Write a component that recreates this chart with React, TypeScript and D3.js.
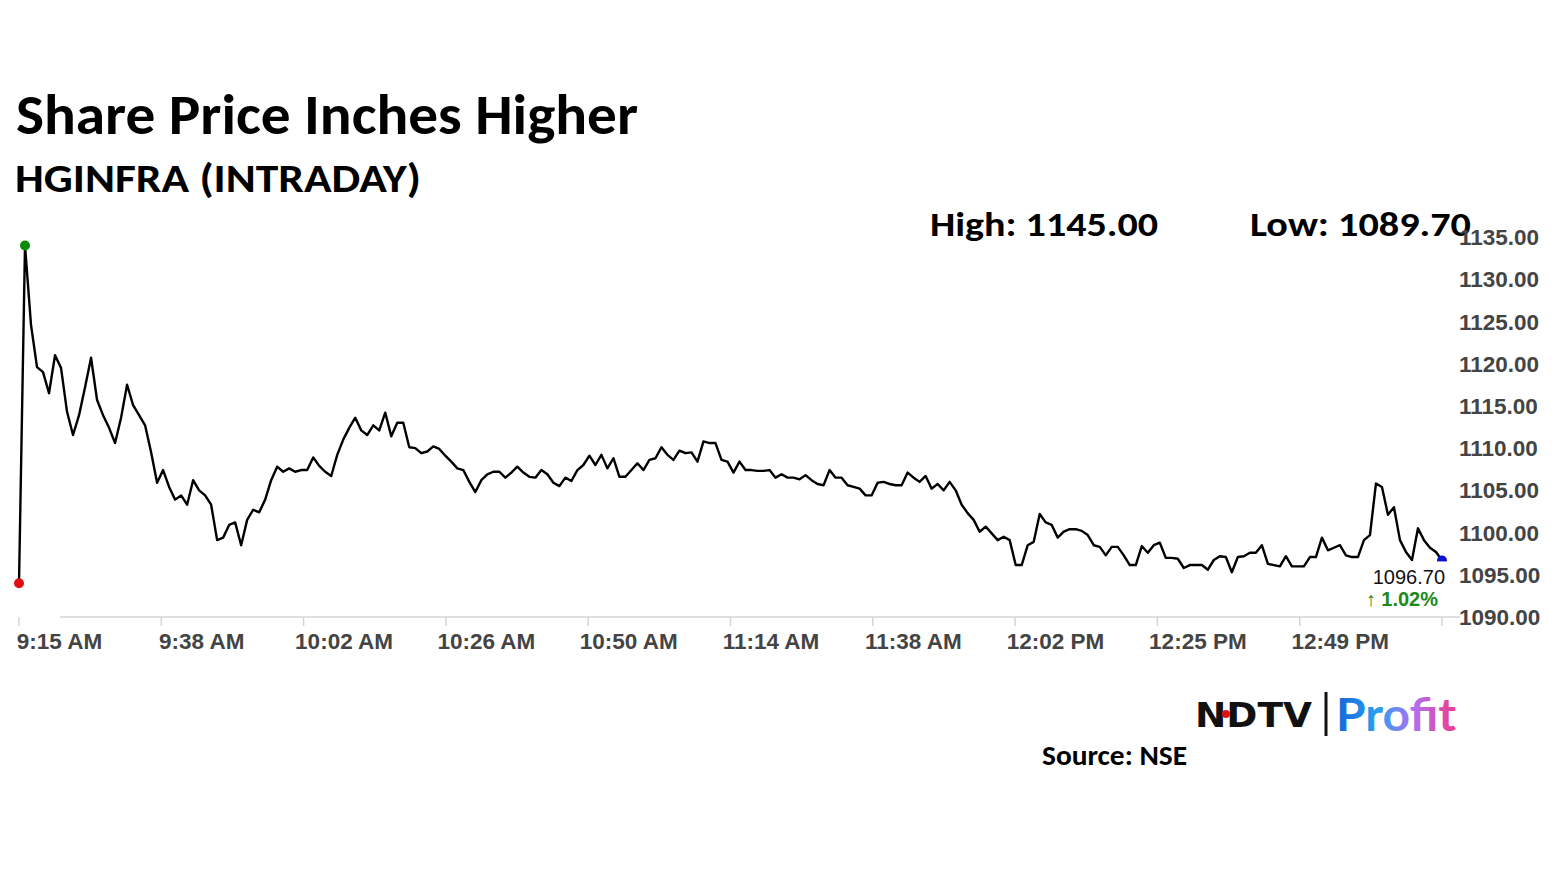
import React from "react";
import * as d3 from "d3";

// Intraday prices, one per minute from 9:15 AM
const prices: number[] = [
  1094.0, 1134.0, 1124.6, 1119.6, 1119.0, 1116.5, 1121.0, 1119.5, 1114.3, 1111.55,
  1113.9, 1117.2, 1120.7, 1115.7, 1113.9, 1112.4, 1110.6, 1113.6, 1117.5, 1115.1,
  1113.9, 1112.7, 1109.5, 1105.9, 1107.4, 1105.4, 1103.9, 1104.4, 1103.3, 1106.2,
  1105.0, 1104.4, 1103.3, 1099.1, 1099.4, 1100.9, 1101.2, 1098.5, 1101.5, 1102.7,
  1102.4, 1103.9, 1106.2, 1107.8, 1107.2, 1107.6, 1107.2, 1107.4, 1107.4, 1108.9,
  1107.9, 1107.2, 1106.7, 1109.2, 1111.0, 1112.4, 1113.6, 1112.1, 1111.55, 1112.7,
  1112.1, 1114.2, 1111.4, 1113.0, 1113.0, 1110.1, 1110.0, 1109.4, 1109.6, 1110.2,
  1109.9, 1109.1, 1108.4, 1107.6, 1107.4, 1106.0, 1104.8, 1106.2, 1106.9, 1107.2,
  1107.2, 1106.5, 1107.1, 1107.8, 1107.1, 1106.6, 1106.5, 1107.4, 1106.9, 1105.9,
  1105.5, 1106.5, 1106.1, 1107.4, 1108.0, 1109.1, 1108.0, 1109.2, 1107.6, 1108.8,
  1106.6, 1106.6, 1107.4, 1108.2, 1107.4, 1108.6, 1108.8, 1110.1, 1109.2, 1108.6,
  1109.7, 1109.4, 1109.5, 1108.4, 1110.8, 1110.6, 1110.6, 1108.6, 1108.4, 1107.1,
  1108.4, 1107.4, 1107.4, 1107.3, 1107.3, 1107.4, 1106.5, 1106.9, 1106.5, 1106.5,
  1106.3, 1106.8, 1106.2, 1105.75, 1105.6, 1107.4, 1106.5, 1106.5, 1105.6, 1105.4,
  1105.2, 1104.4, 1104.4, 1105.9, 1106.0, 1105.75, 1105.6, 1105.6, 1107.1, 1106.5,
  1106.0, 1106.7, 1105.2, 1105.75, 1105.0, 1106.0, 1105.0, 1103.3, 1102.3, 1101.5,
  1100.1, 1100.7, 1099.9, 1099.1, 1099.5, 1099.1, 1096.15, 1096.15, 1098.5, 1098.9,
  1102.2, 1101.2, 1100.9, 1099.4, 1100.1, 1100.4, 1100.4, 1100.2, 1099.7, 1098.5,
  1098.3, 1097.3, 1098.3, 1098.3, 1097.3, 1096.15, 1096.15, 1098.4, 1097.6, 1098.5,
  1098.8, 1097.0, 1097.0, 1096.9, 1095.8, 1096.15, 1096.15, 1096.15, 1095.6, 1096.75,
  1097.2, 1097.1, 1095.3, 1097.1, 1097.2, 1097.6, 1097.6, 1098.5, 1096.3, 1096.15,
  1096.0, 1097.2, 1096.0, 1096.0, 1096.0, 1097.1, 1097.1, 1099.4, 1097.9, 1098.2,
  1098.5, 1097.3, 1097.1, 1097.1, 1099.1, 1099.7, 1105.8, 1105.4, 1102.1, 1103.0,
  1099.1, 1097.7, 1096.75, 1100.5, 1099.1, 1098.2, 1097.7, 1096.7,
];

const xTickLabels: string[] = [
  "9:15 AM", "9:38 AM", "10:02 AM", "10:26 AM", "10:50 AM",
  "11:14 AM", "11:38 AM", "12:02 PM", "12:25 PM", "12:49 PM", "",
];

const yTicks: number[] = [1090, 1095, 1100, 1105, 1110, 1115, 1120, 1125, 1130, 1135];

const titleText = "Share Price Inches Higher";
const subtitleText = "HGINFRA (INTRADAY)";
const highText = "High: 1145.00";
const lowText = "Low: 1089.70";
const lastLabel = "1096.70";
const changeLabel = "\u2191 1.02%";
const sourceText = "Source: NSE";

const W = 1555;
const H = 874;

export default function App() {
  const n = prices.length;
  const x = d3.scaleLinear().domain([0, n - 1]).range([19, 1442]);
  const y = d3.scaleLinear().domain([1090, 1135]).range([617, 237]);

  const line = d3
    .line<number>()
    .x((_, i) => x(i))
    .y((d) => y(d))
    .curve(d3.curveLinear);

  const tickStep = (n - 1) / (xTickLabels.length - 1);
  const xTicks = xTickLabels.map((lab, k) => ({ lab, v: k * tickStep }));

  const maxIdx = d3.maxIndex(prices);
  const minIdx = d3.minIndex(prices);
  const lastIdx = n - 1;

  const headFont = "Carlito, Calibri, Lato, 'Open Sans', sans-serif";
  const axisFont = "'Liberation Sans', Arial, sans-serif";

  return (
    <div style={{ position: "absolute", left: 0, top: 0 }}>
      <svg width={W} height={H} style={{ display: "block", background: "#fff" }}>
        <defs>
          <linearGradient id="profitGrad" x1="0" x2="1" y1="0" y2="0">
            <stop offset="0%" stopColor="#1565d8" />
            <stop offset="35%" stopColor="#2aa0f0" />
            <stop offset="65%" stopColor="#b070f0" />
            <stop offset="100%" stopColor="#f03c8c" />
          </linearGradient>
        </defs>

        {/* Titles */}
        <text x={16} y={134} fontFamily={headFont} fontWeight={700} fontSize={56}
          textLength={622} lengthAdjust="spacingAndGlyphs" fill="#000">{titleText}</text>
        <text x={15} y={192} fontFamily={headFont} fontWeight={700} fontSize={40}
          textLength={406} lengthAdjust="spacingAndGlyphs" fill="#000">{subtitleText}</text>

        <text x={930} y={236} fontFamily={headFont} fontWeight={700} fontSize={35}
          textLength={228} lengthAdjust="spacingAndGlyphs" fill="#000">{highText}</text>
        <text x={1250} y={236} fontFamily={headFont} fontWeight={700} fontSize={35}
          textLength={221} lengthAdjust="spacingAndGlyphs" fill="#000">{lowText}</text>

        {/* Y axis labels */}
        {yTicks.map((t) => (
          <text key={t} x={1459} y={y(t)} dy="0.36em" fontFamily={axisFont} fontWeight={700}
            fontSize={22.5} fill="#444">{t.toFixed(2)}</text>
        ))}

        {/* X axis */}
        <line x1={60} x2={1460} y1={617} y2={617} stroke="#d6d6d6" strokeWidth={1.5} />
        {xTicks.map((t, k) => (
          <g key={k}>
            <line x1={x(t.v)} x2={x(t.v)} y1={617} y2={626} stroke="#d6d6d6" strokeWidth={1.5} />
            {t.lab && (
              <text x={x(t.v) + 40.5} y={649} textAnchor="middle" fontFamily={axisFont}
                fontWeight={700} fontSize={22.5} fill="#444">{t.lab}</text>
            )}
          </g>
        ))}

        {/* Price line */}
        <path d={line(prices) || ""} fill="none" stroke="#000" strokeWidth={2.4} strokeLinejoin="round" />

        {/* Markers */}
        <circle cx={x(maxIdx)} cy={y(prices[maxIdx])} r={5} fill="#0a8a0a" />
        <circle cx={x(minIdx)} cy={y(prices[minIdx])} r={5} fill="#e01010" />
        <circle cx={x(lastIdx)} cy={y(prices[lastIdx])} r={5} fill="#0a10d0" />
        <rect x={1366} y={y(prices[lastIdx]) + 1} width={84} height={48} fill="#fff" />
        <text x={1445} y={y(prices[lastIdx]) + 16} dy="0.36em" textAnchor="end"
          fontFamily={axisFont} fontSize={20} fill="#111">{lastLabel}</text>
        <text x={1438} y={y(prices[lastIdx]) + 38} dy="0.36em" textAnchor="end"
          fontFamily={axisFont} fontWeight={700} fontSize={20} fill="#1a8a1a">{changeLabel}</text>

        {/* Logo */}
        <text x={1195} y={727} fontFamily="'DejaVu Sans', sans-serif" fontWeight={900} fontSize={34}
          textLength={117} lengthAdjust="spacingAndGlyphs" fill="#111">NDTV</text>
        <circle cx={1226} cy={714} r={4} fill="#e01010" />
        <line x1={1326} x2={1326} y1={692} y2={736} stroke="#111" strokeWidth={3} />
        <text x={1336} y={731} fontFamily="Lato, 'Open Sans', sans-serif" fontWeight={700} fontSize={46}
          textLength={120} lengthAdjust="spacingAndGlyphs" fill="url(#profitGrad)">Profit</text>

        <text x={1042} y={765} fontFamily={headFont} fontWeight={700} fontSize={28}
          textLength={145} lengthAdjust="spacingAndGlyphs" fill="#000">{sourceText}</text>
      </svg>
    </div>
  );
}
